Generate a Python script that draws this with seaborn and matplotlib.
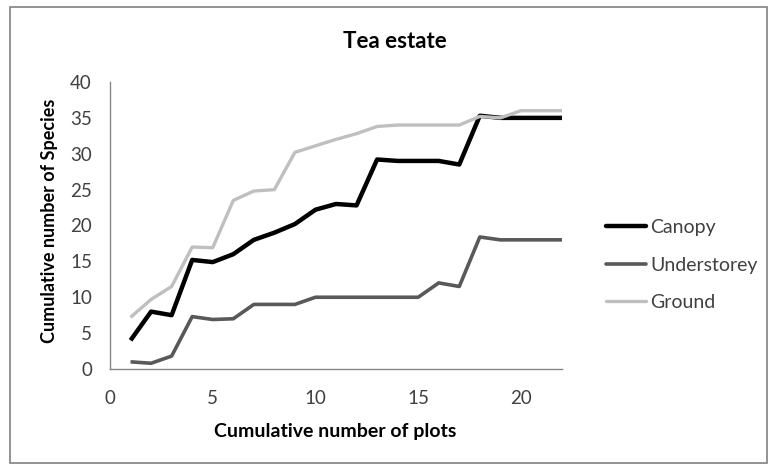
import matplotlib
matplotlib.use("Agg")
import matplotlib.pyplot as plt
import pandas as pd
import seaborn as sns
from matplotlib.patches import Rectangle

# Values
plots = list(range(1, 23))
canopy = [4, 8, 7.5, 15.2, 14.9, 16, 18, 19, 20.2, 22.2, 23, 22.8,
          29.2, 29, 29, 29, 28.5, 35.3, 35, 35, 35, 35]
understorey = [1, 0.8, 1.8, 7.3, 6.9, 7, 9, 9, 9, 10, 10, 10,
               10, 10, 10, 12, 11.5, 18.4, 18, 18, 18, 18]
ground = [7.2, 9.7, 11.5, 17, 16.9, 23.5, 24.8, 25, 30.2, 31.1, 32, 32.8,
          33.8, 34, 34, 34, 34, 35.2, 35, 36, 36, 36]

series_names = ["Canopy", "Understorey", "Ground"]
series_colors = ["#000000", "#595959", "#bfbfbf"]
series_widths = [3.2, 2.6, 2.4]

df = pd.concat([
    pd.DataFrame({"plots": plots, "species": vals, "layer": name})
    for name, vals in zip(series_names, [canopy, understorey, ground])
])

sns.set_theme(style="white")
plt.rcParams["font.family"] = ["Lato", "DejaVu Sans"]

W, H = 769, 466
fig = plt.figure(figsize=(W / 100, H / 100), dpi=100)
ax = fig.add_axes([110 / W, 1 - 369 / H, (562 - 110) / W, (369 - 82) / H])

sns.lineplot(data=df, x="plots", y="species", hue="layer",
             palette=dict(zip(series_names, series_colors)),
             hue_order=series_names, ax=ax, legend=False)
for line, lw in zip(ax.get_lines(), series_widths):
    line.set_linewidth(lw)
    line.set_solid_joinstyle("round")
    line.set_solid_capstyle("butt")

ax.set_xlim(0, 22)
ax.set_ylim(0, 40)
ax.set_xticks([0, 5, 10, 15, 20])
ax.set_yticks(range(0, 41, 5))
ax.tick_params(axis="both", length=0, labelsize=13.5, labelcolor="#404040")
ax.tick_params(axis="x", pad=15)
ax.tick_params(axis="y", pad=13)

for side in ["top", "right"]:
    ax.spines[side].set_visible(False)
for side in ["left", "bottom"]:
    ax.spines[side].set_color("#868686")
    ax.spines[side].set_linewidth(1)

ax.set_xlabel("")
ax.set_ylabel("")
fig.text(335 / W, 1 - 431 / H, "Cumulative number of plots", ha="center",
         va="center", fontsize=14, fontweight="bold", color="#000000")
fig.text(50 / W, 1 - 221 / H, "Cumulative number of Species", ha="center",
         va="center", rotation=90, fontsize=13, fontweight="bold",
         color="#000000")
fig.text(395 / W, 1 - 41 / H, "Tea estate", ha="center", va="center",
         fontsize=16, fontweight="bold", color="#000000")

# Legend on the right
handles = [plt.Line2D([], [], color=c, lw=lw)
           for c, lw in zip(series_colors, series_widths)]
fig.legend(handles, series_names, loc="center left",
           bbox_to_anchor=(588 / W, 1 - 265 / H), frameon=False,
           fontsize=14, handlelength=2.1, handletextpad=0.2,
           labelspacing=1.05, labelcolor="#404040")

# Outer chart border
fig.patches.append(Rectangle((10 / W, 1 - 463 / H), (767 - 10) / W,
                             (463 - 7) / H, transform=fig.transFigure,
                             fill=False, edgecolor="#808080", lw=1.2))

fig.savefig("out.png", dpi=100)
